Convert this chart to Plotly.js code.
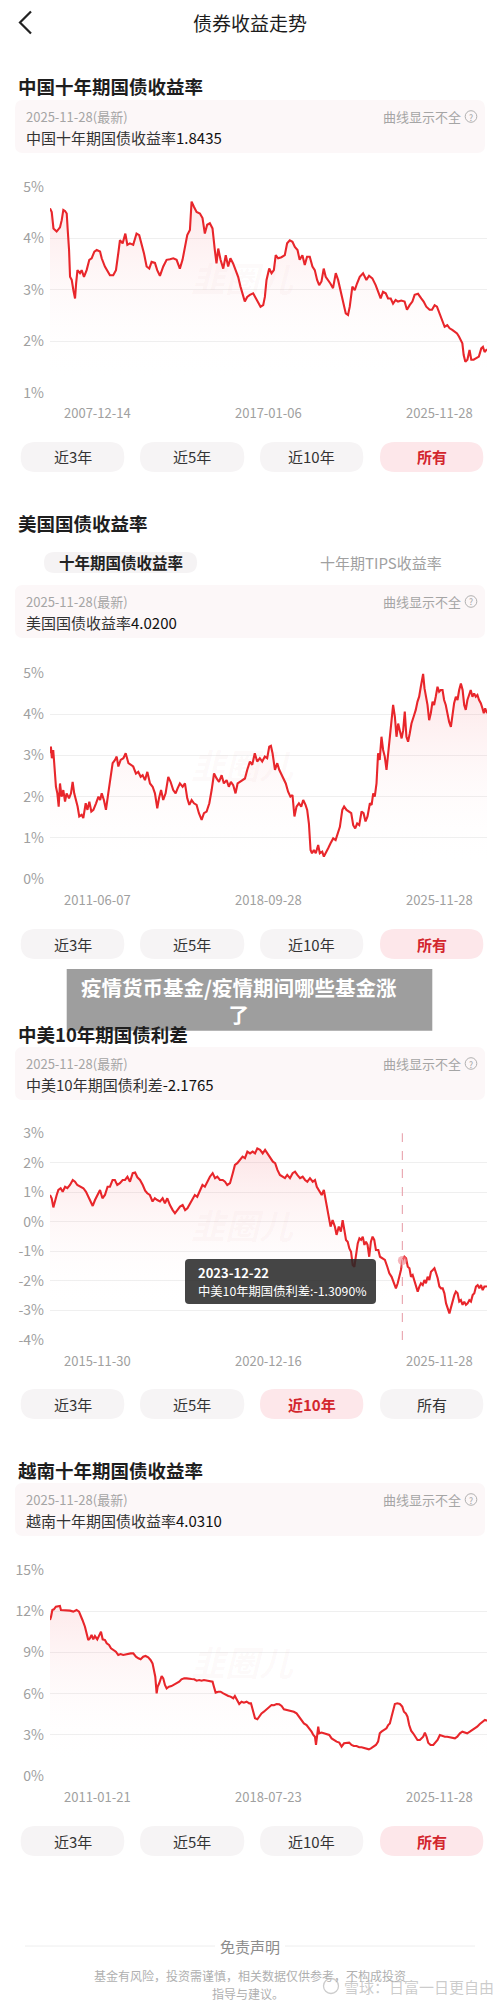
<!DOCTYPE html>
<html><head><meta charset="utf-8">
<script src="https://cdn.plot.ly/plotly-3.0.1.min.js"></script>
<style>html,body{margin:0;padding:0;background:#fff}#chart{width:500px;height:2001px}</style>
</head><body><div id="chart"></div>
<script>
// ---------------- DATA ----------------
const latestDate = '2025-11-28';
const cnLatest = '1.8435', usLatest = '4.0200', spreadLatest = '-2.1765', vnLatest = '4.0310';
const rangeButtons = ['近3年', '近5年', '近10年', '所有'];
const usTabs = ['十年期国债收益率', '十年期TIPS收益率'];

const cnYTicks = [1, 2, 3, 4, 5];
const usYTicks = [0, 1, 2, 3, 4, 5];
const spreadYTicks = [-4, -3, -2, -1, 0, 1, 2, 3];
const vnYTicks = [0, 3, 6, 9, 12, 15];

const cnXLabels = ['2007-12-14', '2017-01-06', '2025-11-28'];
const usXLabels = ['2011-06-07', '2018-09-28', '2025-11-28'];
const spreadXLabels = ['2015-11-30', '2020-12-16', '2025-11-28'];
const vnXLabels = ['2011-01-21', '2018-07-23', '2025-11-28'];

const hoverDate = '2023-12-22';
const hoverValue = -1.3090;
const hoverLabel = '中美10年期国债利差';

const bannerLines = ['疫情货币基金/疫情期间哪些基金涨', '了'];
const disclaimerTitle = '免责声明';
const disclaimerLines = ['基金有风险，投资需谨慎，相关数据仅供参考，不构成投资', '指导与建议。'];
const sourceMark = '雪球：日富一日更自由';

const cnSeries = [['2007-12-14',4.58],['2008-01-09',4.51],['2008-02-04',4.19],['2008-02-28',4.16],['2008-03-23',4.13],['2008-04-18',4.17],['2008-05-12',4.21],['2008-06-07',4.35],['2008-07-01',4.55],['2008-07-26',4.53],['2008-08-21',4.48],['2008-09-05',4.16],['2008-09-25',3.77],['2008-10-10',3.25],['2008-11-04',3.19],['2008-11-29',2.99],['2008-12-24',2.83],['2009-01-09',3.12],['2009-01-29',3.38],['2009-03-08',3.32],['2009-04-02',3.38],['2009-05-07',3.25],['2009-06-16',3.38],['2009-07-26',3.58],['2009-08-30',3.61],['2009-10-10',3.74],['2009-11-14',3.77],['2010-01-03',3.74],['2010-01-28',3.61],['2010-03-17',3.45],['2010-04-21',3.38],['2010-06-01',3.28],['2010-07-20',3.28],['2010-08-30',3.38],['2010-10-04',3.71],['2010-10-29',3.96],['2010-12-08',3.9],['2011-01-18',4.09],['2011-02-17',3.87],['2011-03-27',3.9],['2011-05-16',3.87],['2011-07-05',4.09],['2011-08-14',4.06],['2011-09-19',3.9],['2011-10-24',3.71],['2011-12-03',3.45],['2012-01-12',3.41],['2012-02-16',3.54],['2012-04-06',3.52],['2012-05-10',3.38],['2012-06-20',3.27],['2012-08-09',3.45],['2012-09-28',3.58],['2012-11-17',3.59],['2013-01-07',3.61],['2013-02-25',3.58],['2013-04-15',3.41],['2013-05-25',3.58],['2013-06-29',3.83],['2013-08-04',4.06],['2013-09-13',4.16],['2013-10-08',4.71],['2013-11-12',4.61],['2013-12-22',4.51],['2014-02-10',4.48],['2014-03-21',4.39],['2014-04-25',4.09],['2014-05-30',4.26],['2014-07-09',4.29],['2014-08-18',4.19],['2014-09-22',3.77],['2014-10-17',3.51],['2014-11-12',3.8],['2014-12-17',3.58],['2015-01-26',3.41],['2015-03-05',3.67],['2015-04-10',3.45],['2015-05-14',3.61],['2015-06-23',3.51],['2015-08-03',3.38],['2015-09-07',3.25],['2015-10-12',3.06],['2015-11-21',2.9],['2015-12-16',2.77],['2016-01-21',2.86],['2016-03-01',2.9],['2016-04-19',2.93],['2016-05-29',2.83],['2016-07-03',2.73],['2016-08-08',2.67],['2016-09-17',2.7],['2016-10-12',2.86],['2016-11-06',3.19],['2016-12-16',3.41],['2017-01-20',3.32],['2017-02-24',3.38],['2017-03-24',3.67],['2017-04-29',3.61],['2017-06-18',3.63],['2017-08-07',3.67],['2017-09-11',3.9],['2017-10-21',3.96],['2017-11-30',3.93],['2018-01-05',3.83],['2018-02-14',3.77],['2018-03-18',3.58],['2018-04-28',3.67],['2018-06-03',3.48],['2018-07-07',3.64],['2018-08-17',3.64],['2018-09-26',3.45],['2018-10-31',3.38],['2018-12-05',3.19],['2019-01-05',3.09],['2019-02-09',3.16],['2019-03-14',3.41],['2019-04-13',3.25],['2019-05-18',3.19],['2019-06-22',3.12],['2019-08-01',3.03],['2019-09-11',3.32],['2019-10-16',3.19],['2019-11-20',2.99],['2019-12-29',2.8],['2020-02-08',2.54],['2020-03-13',2.51],['2020-04-08',2.67],['2020-05-17',3.06],['2020-06-22',2.99],['2020-07-26',3.12],['2020-09-05',3.25],['2020-10-25',3.32],['2020-12-14',3.19],['2021-01-23',3.27],['2021-03-13',3.22],['2021-05-02',3.09],['2021-06-06',2.96],['2021-07-16',2.83],['2021-08-20',2.96],['2021-09-30',2.93],['2021-11-04',2.83],['2021-12-14',2.83],['2022-01-18',2.73],['2022-02-26',2.8],['2022-04-02',2.77],['2022-05-21',2.79],['2022-07-10',2.77],['2022-08-15',2.61],['2022-09-24',2.7],['2022-11-04',2.77],['2022-12-08',2.9],['2023-01-28',2.92],['2023-03-17',2.83],['2023-04-22',2.77],['2023-06-01',2.67],['2023-07-20',2.61],['2023-08-25',2.61],['2023-10-04',2.7],['2023-11-08',2.67],['2023-12-18',2.54],['2024-01-27',2.38],['2024-03-02',2.28],['2024-04-11',2.31],['2024-05-16',2.25],['2024-06-25',2.22],['2024-07-30',2.18],['2024-09-04',2.15],['2024-10-03',2.09],['2024-10-28',2.02],['2024-11-23',1.96],['2024-12-13',1.73],['2025-01-07',1.6],['2025-02-07',1.64],['2025-03-11',1.83],['2025-04-06',1.64],['2025-05-11',1.64],['2025-06-20',1.67],['2025-07-29',1.7],['2025-09-03',1.86],['2025-09-28',1.89],['2025-10-23',1.79],['2025-11-28',1.8435]];

const usSeries = [['2011-06-07',3.05],['2011-06-18',3.21],['2011-06-30',2.93],['2011-07-16',3.13],['2011-07-28',2.81],['2011-08-18',2.24],['2011-09-04',2.08],['2011-09-20',1.76],['2011-10-06',2.32],['2011-10-25',2.0],['2011-11-15',2.16],['2011-12-06',1.88],['2011-12-25',2.08],['2012-01-23',1.96],['2012-02-16',2.08],['2012-03-07',2.36],['2012-03-26',2.08],['2012-04-16',1.92],['2012-05-06',1.76],['2012-05-26',1.52],['2012-06-24',1.56],['2012-07-14',1.48],['2012-08-12',1.84],['2012-09-02',1.68],['2012-09-25',1.88],['2012-10-19',1.64],['2012-11-13',1.68],['2012-12-15',1.84],['2013-01-13',2.0],['2013-02-03',1.92],['2013-02-22',2.08],['2013-03-20',1.92],['2013-04-14',1.68],['2013-05-12',2.08],['2013-06-10',2.56],['2013-07-04',2.81],['2013-08-02',2.89],['2013-08-22',2.97],['2013-09-11',2.73],['2013-10-09',2.89],['2013-11-11',2.93],['2013-12-09',3.05],['2014-01-11',2.81],['2014-02-08',2.77],['2014-03-10',2.73],['2014-04-12',2.56],['2014-05-10',2.6],['2014-06-08',2.48],['2014-07-02',2.52],['2014-07-30',2.4],['2014-08-28',2.6],['2014-09-29',2.32],['2014-10-31',2.24],['2014-11-28',2.08],['2014-12-26',1.72],['2015-01-16',1.96],['2015-02-10',2.16],['2015-03-08',1.92],['2015-04-06',2.08],['2015-05-08',2.48],['2015-06-05',2.36],['2015-07-07',2.16],['2015-08-05',2.08],['2015-08-29',2.2],['2015-09-26',2.32],['2015-10-29',2.24],['2015-11-26',2.32],['2015-12-24',1.96],['2016-01-18',1.8],['2016-02-15',1.92],['2016-03-14',1.84],['2016-04-15',1.8],['2016-05-13',1.6],['2016-06-15',1.44],['2016-07-13',1.6],['2016-08-14',1.64],['2016-09-16',1.84],['2016-10-14',2.16],['2016-11-12',2.56],['2016-12-13',2.44],['2017-01-11',2.36],['2017-02-12',2.52],['2017-03-11',2.32],['2017-04-13',2.4],['2017-05-10',2.24],['2017-06-04',2.36],['2017-07-02',2.28],['2017-07-30',2.08],['2017-08-24',2.32],['2017-09-21',2.36],['2017-10-23',2.4],['2017-11-21',2.44],['2017-12-19',2.65],['2018-01-20',2.85],['2018-02-17',2.77],['2018-03-20',3.05],['2018-04-18',2.85],['2018-05-20',2.93],['2018-06-18',2.85],['2018-07-20',2.97],['2018-08-17',2.93],['2018-09-11',3.21],['2018-10-01',3.23],['2018-10-21',3.05],['2018-11-19',2.65],['2018-12-17',2.81],['2019-01-10',2.65],['2019-02-08',2.52],['2019-03-06',2.44],['2019-03-30',2.32],['2019-04-27',2.12],['2019-05-25',2.0],['2019-06-19',2.04],['2019-07-13',1.52],['2019-08-07',1.76],['2019-09-05',1.84],['2019-10-03',1.76],['2019-10-27',1.92],['2019-11-24',1.8],['2019-12-14',1.68],['2020-01-04',1.35],['2020-01-24',0.71],['2020-02-10',0.63],['2020-03-04',0.71],['2020-03-27',0.63],['2020-04-25',0.83],['2020-05-15',0.63],['2020-06-13',0.67],['2020-07-03',0.55],['2020-07-27',0.63],['2020-08-24',0.75],['2020-09-22',0.87],['2020-10-24',0.99],['2020-11-22',0.95],['2020-12-16',1.11],['2021-01-13',1.27],['2021-02-11',1.68],['2021-03-05',1.76],['2021-04-03',1.68],['2021-05-01',1.64],['2021-05-30',1.6],['2021-06-23',1.31],['2021-07-17',1.23],['2021-08-10',1.35],['2021-09-04',1.31],['2021-10-02',1.64],['2021-10-26',1.6],['2021-11-19',1.4],['2021-12-13',1.52],['2022-01-11',1.84],['2022-02-01',1.8],['2022-02-20',2.08],['2022-03-11',2.0],['2022-04-01',2.32],['2022-04-20',3.05],['2022-05-10',2.89],['2022-05-31',3.45],['2022-06-20',3.13],['2022-07-10',2.97],['2022-07-31',2.65],['2022-08-20',3.05],['2022-09-10',3.45],['2022-09-30',3.77],['2022-10-19',4.22],['2022-11-09',3.94],['2022-11-29',3.45],['2022-12-19',3.77],['2023-01-09',3.61],['2023-01-30',3.41],['2023-02-18',3.61],['2023-03-09',4.06],['2023-03-29',3.45],['2023-04-18',3.33],['2023-05-08',3.53],['2023-05-29',3.77],['2023-06-25',3.94],['2023-07-20',4.1],['2023-08-10',4.3],['2023-08-30',4.42],['2023-09-19',4.66],['2023-10-05',4.9],['2023-10-17',4.97],['2023-11-03',4.62],['2023-11-19',4.42],['2023-12-09',4.22],['2023-12-29',3.85],['2024-01-18',4.02],['2024-02-08',4.3],['2024-02-27',4.22],['2024-03-18',4.42],['2024-04-08',4.66],['2024-04-28',4.54],['2024-05-17',4.58],['2024-06-08',4.58],['2024-06-27',4.34],['2024-07-17',4.22],['2024-08-07',3.98],['2024-08-27',3.81],['2024-09-17',3.69],['2024-10-07',4.02],['2024-10-26',4.26],['2024-11-16',4.42],['2024-12-06',4.34],['2024-12-26',4.58],['2025-01-16',4.74],['2025-02-06',4.58],['2025-02-25',4.22],['2025-03-16',4.1],['2025-04-05',4.34],['2025-04-25',4.46],['2025-05-15',4.58],['2025-06-05',4.42],['2025-06-25',4.5],['2025-07-15',4.42],['2025-08-04',4.46],['2025-08-24',4.34],['2025-09-14',4.26],['2025-10-04',4.14],['2025-10-20',4.02],['2025-11-06',4.14],['2025-11-22',4.06],['2025-11-28',4.02]];

const spreadSeries = [['2015-11-30',0.91],['2015-12-14',0.80],['2015-12-28',0.49],['2016-01-11',0.74],['2016-01-25',0.91],['2016-02-08',1.08],['2016-02-27',1.14],['2016-03-15',1.02],['2016-04-04',1.19],['2016-04-23',1.14],['2016-05-15',1.25],['2016-06-07',1.42],['2016-06-26',1.36],['2016-07-15',1.25],['2016-08-07',1.19],['2016-09-04',1.14],['2016-09-26',1.02],['2016-10-15',0.85],['2016-11-05',0.63],['2016-11-21',0.54],['2016-12-10',0.74],['2016-12-30',0.88],['2017-01-21',1.08],['2017-02-10',0.80],['2017-03-03',0.91],['2017-03-25',1.19],['2017-04-14',1.19],['2017-05-06',1.42],['2017-05-25',1.42],['2017-06-14',1.25],['2017-07-06',1.31],['2017-07-29',1.42],['2017-08-18',1.42],['2017-09-07',1.53],['2017-09-28',1.36],['2017-10-21',1.65],['2017-11-10',1.67],['2017-11-29',1.51],['2017-12-21',1.42],['2018-01-13',1.25],['2018-02-02',1.06],['2018-02-20',0.97],['2018-03-13',0.91],['2018-04-05',0.69],['2018-04-24',0.80],['2018-05-14',0.74],['2018-06-06',0.69],['2018-06-28',0.80],['2018-07-17',0.63],['2018-08-06',0.80],['2018-08-28',0.57],['2018-09-20',0.40],['2018-10-09',0.29],['2018-10-29',0.40],['2018-11-20',0.52],['2018-12-12',0.57],['2019-01-02',0.40],['2019-01-21',0.46],['2019-02-12',0.63],['2019-03-05',0.80],['2019-03-24',0.91],['2019-04-13',0.85],['2019-05-05',1.08],['2019-05-27',1.25],['2019-06-16',1.19],['2019-07-06',1.36],['2019-07-28',1.53],['2019-08-20',1.65],['2019-09-09',1.48],['2019-09-28',1.53],['2019-10-20',1.42],['2019-11-12',1.42],['2019-12-01',1.36],['2019-12-20',1.25],['2020-01-12',1.31],['2020-02-04',1.65],['2020-02-22',1.93],['2020-03-13',1.99],['2020-04-04',2.10],['2020-04-26',2.21],['2020-05-16',2.16],['2020-06-05',2.38],['2020-06-27',2.32],['2020-07-19',2.38],['2020-08-08',2.32],['2020-08-27',2.49],['2020-09-19',2.44],['2020-10-11',2.32],['2020-10-31',2.44],['2020-11-19',2.32],['2020-12-11',2.21],['2021-01-04',2.04],['2021-01-23',1.99],['2021-02-11',1.76],['2021-03-04',1.59],['2021-03-26',1.53],['2021-04-15',1.48],['2021-05-04',1.59],['2021-05-27',1.48],['2021-06-18',1.65],['2021-07-08',1.70],['2021-07-27',1.59],['2021-08-19',1.48],['2021-09-10',1.53],['2021-09-30',1.42],['2021-10-19',1.36],['2021-11-10',1.48],['2021-12-03',1.36],['2021-12-22',1.42],['2022-01-06',1.19],['2022-01-28',1.02],['2022-02-16',0.91],['2022-03-06',1.08],['2022-03-22',0.74],['2022-04-03',0.40],['2022-04-17',0.06],['2022-05-01',-0.16],['2022-05-18',0.06],['2022-06-06',-0.16],['2022-06-20',-0.44],['2022-07-09',-0.16],['2022-07-26',-0.33],['2022-08-10',0.06],['2022-08-24',-0.27],['2022-09-07',-0.61],['2022-09-21',-0.67],['2022-10-05',-0.90],['2022-10-19',-1.01],['2022-11-02',-1.46],['2022-11-16',-1.52],['2022-11-30',-1.06],['2022-12-14',-0.73],['2022-12-28',-0.56],['2023-01-11',-0.61],['2023-01-25',-0.50],['2023-02-08',-0.78],['2023-02-21',-0.67],['2023-03-06',-0.78],['2023-03-20',-1.18],['2023-04-03',-0.67],['2023-04-17',-0.50],['2023-05-01',-0.61],['2023-05-15',-0.95],['2023-06-04',-0.95],['2023-06-18',-1.18],['2023-07-07',-1.23],['2023-07-29',-1.29],['2023-08-18',-1.52],['2023-09-04',-1.74],['2023-09-23',-1.86],['2023-10-13',-2.08],['2023-10-29',-2.25],['2023-11-13',-2.08],['2023-11-27',-1.86],['2023-12-10',-1.63],['2023-12-22',-1.309],['2024-01-08',-1.18],['2024-01-22',-1.23],['2024-02-05',-1.52],['2024-02-19',-1.57],['2024-03-03',-1.86],['2024-03-17',-1.80],['2024-03-30',-1.97],['2024-04-14',-2.14],['2024-04-28',-2.36],['2024-05-12',-2.19],['2024-05-25',-2.08],['2024-06-09',-2.14],['2024-06-23',-1.97],['2024-07-06',-2.08],['2024-07-20',-1.86],['2024-08-03',-1.97],['2024-08-17',-1.69],['2024-09-01',-1.63],['2024-09-15',-1.57],['2024-09-29',-1.74],['2024-10-12',-1.91],['2024-10-26',-2.19],['2024-11-09',-2.25],['2024-11-23',-2.25],['2024-12-07',-2.42],['2024-12-21',-2.76],['2025-01-04',-2.98],['2025-01-18',-3.10],['2025-02-02',-2.87],['2025-02-15',-2.65],['2025-02-28',-2.48],['2025-03-13',-2.36],['2025-03-27',-2.42],['2025-04-10',-2.70],['2025-04-24',-2.65],['2025-05-08',-2.81],['2025-05-22',-2.70],['2025-06-05',-2.81],['2025-06-19',-2.76],['2025-07-03',-2.65],['2025-07-17',-2.70],['2025-07-31',-2.48],['2025-08-14',-2.42],['2025-08-28',-2.19],['2025-09-11',-2.14],['2025-09-25',-2.25],['2025-10-09',-2.14],['2025-10-23',-2.31],['2025-11-06',-2.19],['2025-11-20',-2.19],['2025-11-28',-2.1765]];

const vnSeries = [['2011-01-21',11.36],['2011-02-03',11.6],['2011-02-19',12.09],['2011-03-10',12.14],['2011-04-04',12.33],['2011-05-03',12.38],['2011-05-24',12.38],['2011-06-06',12.09],['2011-07-04',12.09],['2011-08-15',12.04],['2011-09-26',12.04],['2011-11-06',11.97],['2011-12-17',12.09],['2012-01-16',11.97],['2012-02-06',11.6],['2012-02-28',11.36],['2012-03-30',10.87],['2012-04-19',10.27],['2012-05-10',9.9],['2012-05-30',10.02],['2012-06-20',10.27],['2012-07-11',9.95],['2012-08-01',10.19],['2012-08-30',9.95],['2012-09-24',10.27],['2012-10-15',10.51],['2012-11-05',9.95],['2012-12-04',9.9],['2012-12-25',9.66],['2013-01-23',9.54],['2013-02-16',9.3],['2013-03-16',9.17],['2013-04-18',9.05],['2013-05-17',8.81],['2013-06-15',8.88],['2013-07-18',8.81],['2013-08-21',8.86],['2013-09-19',8.93],['2013-10-18',8.93],['2013-11-20',8.93],['2013-12-23',8.69],['2014-01-22',8.57],['2014-02-19',8.5],['2014-03-23',8.69],['2014-04-21',8.74],['2014-05-24',8.64],['2014-06-22',8.45],['2014-07-17',8.2],['2014-08-03',7.72],['2014-08-20',7.23],['2014-09-06',6.02],['2014-09-18',6.5],['2014-10-08',6.75],['2014-11-07',7.28],['2014-11-27',7.11],['2014-12-18',6.63],['2015-01-08',6.38],['2015-02-06',6.5],['2015-03-09',6.55],['2015-04-07',6.63],['2015-05-10',6.75],['2015-06-13',6.87],['2015-07-11',7.04],['2015-08-14',7.11],['2015-09-12',7.11],['2015-10-15',7.11],['2015-11-14',7.06],['2015-12-17',7.04],['2016-01-15',6.94],['2016-02-17',6.99],['2016-03-16',6.94],['2016-04-15',6.99],['2016-05-18',6.94],['2016-06-28',6.92],['2016-07-31',6.87],['2016-08-17',6.5],['2016-09-07',6.07],['2016-10-10',6.14],['2016-11-08',6.14],['2016-12-11',6.02],['2017-01-14',5.9],['2017-02-12',5.83],['2017-03-11',5.78],['2017-04-14',5.66],['2017-05-04',5.83],['2017-06-02',5.53],['2017-06-27',5.24],['2017-07-26',5.41],['2017-08-24',5.34],['2017-09-27',5.41],['2017-10-30',5.29],['2017-11-20',5.29],['2017-12-10',4.81],['2018-01-09',4.2],['2018-02-07',4.13],['2018-03-02',4.32],['2018-03-31',4.56],['2018-04-29',4.68],['2018-06-01',4.85],['2018-07-04',5.05],['2018-08-02',5.17],['2018-09-01',5.15],['2018-10-04',5.24],['2018-11-06',5.22],['2018-12-05',5.1],['2019-01-03',4.85],['2019-02-06',4.81],['2019-03-09',4.78],['2019-04-07',4.76],['2019-05-06',4.68],['2019-06-09',4.56],['2019-07-11',4.32],['2019-08-10',4.03],['2019-09-08',3.83],['2019-10-11',3.71],['2019-11-13',3.47],['2019-12-12',3.23],['2020-01-03',2.99],['2020-01-23',2.86],['2020-02-05',2.26],['2020-02-17',3.11],['2020-03-04',3.59],['2020-03-16',3.11],['2020-04-14',3.16],['2020-05-13',3.11],['2020-06-16',3.06],['2020-07-19',2.99],['2020-08-17',2.74],['2020-09-15',2.62],['2020-10-18',2.5],['2020-11-20',2.43],['2020-12-19',2.14],['2021-01-18',2.38],['2021-02-19',2.38],['2021-03-23',2.43],['2021-04-21',2.26],['2021-05-20',2.18],['2021-06-22',2.18],['2021-07-26',2.09],['2021-08-24',2.09],['2021-09-22',2.04],['2021-10-25',2.01],['2021-11-23',1.94],['2021-12-18',2.01],['2022-01-16',2.14],['2022-02-18',2.26],['2022-03-17',2.5],['2022-04-07',3.11],['2022-04-28',3.23],['2022-05-27',3.35],['2022-06-29',3.47],['2022-07-20',3.71],['2022-08-10',3.83],['2022-08-31',4.32],['2022-09-21',4.93],['2022-10-11',5.24],['2022-11-10',5.29],['2022-12-13',5.24],['2023-01-11',5.05],['2023-02-01',4.68],['2023-02-24',4.56],['2023-03-17',4.32],['2023-04-07',3.71],['2023-05-01',3.3],['2023-05-26',3.11],['2023-06-24',2.86],['2023-07-19',2.62],['2023-08-18',2.62],['2023-09-08',2.74],['2023-09-28',2.86],['2023-10-19',3.16],['2023-11-09',2.86],['2023-11-29',2.43],['2023-12-28',2.26],['2024-01-31',2.26],['2024-02-28',2.43],['2024-03-24',2.62],['2024-04-22',2.99],['2024-05-25',2.91],['2024-06-23',2.86],['2024-07-22',2.86],['2024-08-25',2.82],['2024-09-23',2.74],['2024-10-26',2.74],['2024-11-24',2.86],['2024-12-27',3.11],['2025-01-26',3.23],['2025-02-27',3.16],['2025-03-27',3.11],['2025-04-29',3.23],['2025-06-01',3.35],['2025-06-30',3.47],['2025-07-29',3.59],['2025-08-31',3.79],['2025-10-04',3.96],['2025-11-02',4.08],['2025-11-28',4.031]];

// ---------------- PAGE GEOMETRY ----------------
const W = 500, H = 2001, PL = 50, PR = 487;
const FONT = "'Noto Sans CJK SC','Noto Sans',sans-serif";
const RED = '#e8262b';
const fx = x => x / W, fy = y => 1 - y / H;

const sections = [
  {title:'中国十年期国债收益率', titleY:86, boxTop:100, label:'中国十年期国债收益率', latest:cnLatest, top:186.7, bot:392.7, btnY:457, sel:3, series:cnSeries, ticks:cnYTicks, xl:cnXLabels, grad:[1.25,5]},
  {title:'美国国债收益率', titleY:523, boxTop:585, label:'美国国债收益率', latest:usLatest, top:672.7, bot:879.3, btnY:944, sel:3, series:usSeries, ticks:usYTicks, xl:usXLabels, grad:[0.3,5]},
  {title:'中美10年期国债利差', titleY:1034, boxTop:1047, label:'中美10年期国债利差', latest:spreadLatest, top:1133.3, bot:1340, btnY:1404, sel:2, series:spreadSeries, ticks:spreadYTicks, xl:spreadXLabels, grad:[-2.9,2.6], floor:true},
  {title:'越南十年期国债收益率', titleY:1470, boxTop:1483, label:'越南十年期国债收益率', latest:vnLatest, top:1570, bot:1776, btnY:1841, sel:3, series:vnSeries, ticks:vnYTicks, xl:vnXLabels, grad:[0.8,14]}
];

const shapes = [], annotations = [], traces = [];
const layout = {width:W, height:H, margin:{l:0,r:0,t:0,b:0}, paper_bgcolor:'#ffffff', plot_bgcolor:'rgba(0,0,0,0)', showlegend:false, hovermode:false, font:{family:FONT}};

function rr(x0,y0,x1,y1,r){
  const X=v=>fx(v).toFixed(5), Y=v=>fy(v).toFixed(5);
  return `M${X(x0+r)},${Y(y0)} L${X(x1-r)},${Y(y0)} Q${X(x1)},${Y(y0)} ${X(x1)},${Y(y0+r)} L${X(x1)},${Y(y1-r)} Q${X(x1)},${Y(y1)} ${X(x1-r)},${Y(y1)} L${X(x0+r)},${Y(y1)} Q${X(x0)},${Y(y1)} ${X(x0)},${Y(y1-r)} L${X(x0)},${Y(y0+r)} Q${X(x0)},${Y(y0)} ${X(x0+r)},${Y(y0)} Z`;
}
function rrect(x0,y0,x1,y1,r,fill,layer){shapes.push({type:'path',xref:'paper',yref:'paper',path:rr(x0,y0,x1,y1,r),fillcolor:fill,line:{width:0},layer:layer||'below'});}
function hline(x0,x1,y,color){shapes.push({type:'line',xref:'paper',yref:'paper',x0:fx(x0),x1:fx(x1),y0:fy(y),y1:fy(y),line:{color,width:1},layer:'below'});}
function circ(cx,cy,r,color,w){shapes.push({type:'circle',xref:'paper',yref:'paper',x0:fx(cx-r),x1:fx(cx+r),y0:fy(cy+r),y1:fy(cy-r),line:{color,width:w},fillcolor:'rgba(0,0,0,0)'});}
function txt(text,x,y,size,color,xanchor,extra){annotations.push(Object.assign({text,x:fx(x),y:fy(y),xref:'paper',yref:'paper',showarrow:false,xanchor:xanchor||'left',yanchor:'middle',font:{family:FONT,size,color}},extra||{}));}

// header
shapes.push({type:'path',xref:'paper',yref:'paper',path:`M${fx(31)},${fy(11.5)} L${fx(20)},${fy(22.5)} L${fx(31)},${fy(33.5)}`,line:{color:'#222',width:2.2},fillcolor:'rgba(0,0,0,0)'});
txt('债券收益走势',250,23,19,'#1c1c1c','center');

const btnX = [[20.7,124.3],[140,244.3],[260,363.3],[380,483.3]];

sections.forEach((s,i)=>{
  const n = i===0 ? '' : String(i+1);
  const dates = s.series.map(p=>p[0]), vals = s.series.map(p=>p[1]);
  txt('<b>'+s.title+'</b>',16,s.titleY,18.5,'#1e1e1e','left');
  rrect(15,s.boxTop,485,s.boxTop+53,8,'#fcf7f8');
  txt(latestDate+'(最新)',24,s.boxTop+16,13,'#a5a5a5','left');
  txt('曲线显示不全',463,s.boxTop+16,13,'#a5a5a5','right');
  circ(471,s.boxTop+16.5,5.8,'#b0b0b0',1);
  txt('?',471,s.boxTop+16.5,8.5,'#a5a5a5','center');
  txt(s.label+'<span style="color:#111">'+s.latest+'</span>',24,s.boxTop+37.5,15,'#333','left');
  btnX.forEach((b,k)=>{
    const on = k===s.sel;
    rrect(b[0],s.btnY-15,b[1],s.btnY+15,15,on?'#fde7ea':'#f6f4f5');
    txt(on?'<b>'+rangeButtons[k]+'</b>':rangeButtons[k],(b[0]+b[1])/2,s.btnY,15,on?'#d3262d':'#333','center');
  });
  const xr = 'x'+n;
  annotations.push({text:s.xl[0],xref:xr,yref:'paper',x:dates[0],y:fy(s.bot+20),xanchor:'left',xshift:12,yanchor:'middle',showarrow:false,font:{family:FONT,size:13,color:'#a0a0a0'}});
  annotations.push({text:s.xl[1],xref:'paper',yref:'paper',x:fx((PL+PR)/2),y:fy(s.bot+20),xanchor:'center',yanchor:'middle',showarrow:false,font:{family:FONT,size:13,color:'#a0a0a0'}});
  annotations.push({text:s.xl[2],xref:xr,yref:'paper',x:dates[dates.length-1],y:fy(s.bot+20),xanchor:'right',xshift:-12,yanchor:'middle',showarrow:false,font:{family:FONT,size:13,color:'#a0a0a0'}});
  txt('<b><i>韭圈儿</i></b>',242,(s.top+s.bot)/2-12,34,'rgba(215,120,120,0.04)','center');
  const range = [s.ticks[0], s.ticks[s.ticks.length-1]];
  const grad = {type:'vertical',start:s.grad[0],stop:s.grad[1],colorscale:[[0,'rgba(255,255,255,0)'],[1,'rgba(240,70,80,0.15)']]};
  if (s.floor) {
    traces.push({type:'scatter',mode:'lines',x:[dates[0],dates[dates.length-1]],y:[range[0],range[0]],xaxis:xr,yaxis:'y'+n,line:{width:0,color:'rgba(0,0,0,0)'},hoverinfo:'skip'});
    traces.push({type:'scatter',mode:'lines',x:dates,y:vals,xaxis:xr,yaxis:'y'+n,line:{color:RED,width:2.1},fill:'tonexty',fillgradient:grad,hoverinfo:'skip'});
  } else {
    traces.push({type:'scatter',mode:'lines',x:dates,y:vals,xaxis:xr,yaxis:'y'+n,line:{color:RED,width:2.1},fill:'tozeroy',fillgradient:grad,hoverinfo:'skip'});
  }
  layout['xaxis'+n] = {domain:[fx(PL),fx(PR)],anchor:'y'+n,type:'date',range:[dates[0],dates[dates.length-1]],showticklabels:false,showgrid:false,zeroline:false,showline:false,fixedrange:true};
  layout['yaxis'+n] = {domain:[fy(s.bot),fy(s.top)],anchor:xr,range,tickvals:s.ticks,ticktext:s.ticks.map(v=>v+'%'),tickfont:{family:FONT,size:14,color:'#a0a0a0'},gridcolor:'#efefef',gridwidth:1,zeroline:false,showline:false,ticks:'',ticklabelstandoff:5,fixedrange:true};
});

// US tabs
rrect(44,552,197,573,10.5,'#f5f3f4');
txt('<b>'+usTabs[0]+'</b>',120.5,562.5,15.5,'#222','center');
txt(usTabs[1],381,562.5,15,'#a0a0a0','center');

// hover state on spread chart
shapes.push({type:'line',xref:'x3',yref:'y3 domain',x0:hoverDate,x1:hoverDate,y0:0,y1:1,line:{color:'#eaaab3',width:1.2,dash:'dash'},layer:'above'});
traces.push({type:'scatter',mode:'markers',x:[hoverDate],y:[hoverValue],xaxis:'x3',yaxis:'y3',marker:{size:9,color:'rgba(240,130,140,0.6)'},hoverinfo:'skip'});
rrect(185,1259,376,1304,4,'rgba(38,38,38,0.86)','above');
txt('<b>'+hoverDate+'</b>',195.5,1272,13,'#ffffff','left');
txt(hoverLabel+':'+hoverValue.toFixed(4)+'%',195.5,1290.5,12.3,'#ffffff','left');

// grey banner
rrect(66.7,969,432.3,1030.7,0,'#9e9e9e','above');
txt('<b>'+bannerLines[0]+'<br>'+bannerLines[1]+'</b>',239,1000,20.5,'#ffffff','center',{align:'center'});

// footer
hline(25,215,1946,'#eeeeee');
hline(285,475,1946,'#eeeeee');
txt(disclaimerTitle,250,1946,15,'#8c8c8c','center');
txt(disclaimerLines[0],250,1975,12,'#b0b0b0','center');
txt(disclaimerLines[1],248,1993,12,'#b0b0b0','center');
circ(331,1986,7.5,'rgba(170,170,170,0.6)',1.3);
txt(sourceMark,342,1986,15,'rgba(170,170,170,0.6)','left');

layout.shapes = shapes;
layout.annotations = annotations;
Plotly.newPlot('chart', traces, layout, {staticPlot:true, displayModeBar:false});
</script>
</body></html>
